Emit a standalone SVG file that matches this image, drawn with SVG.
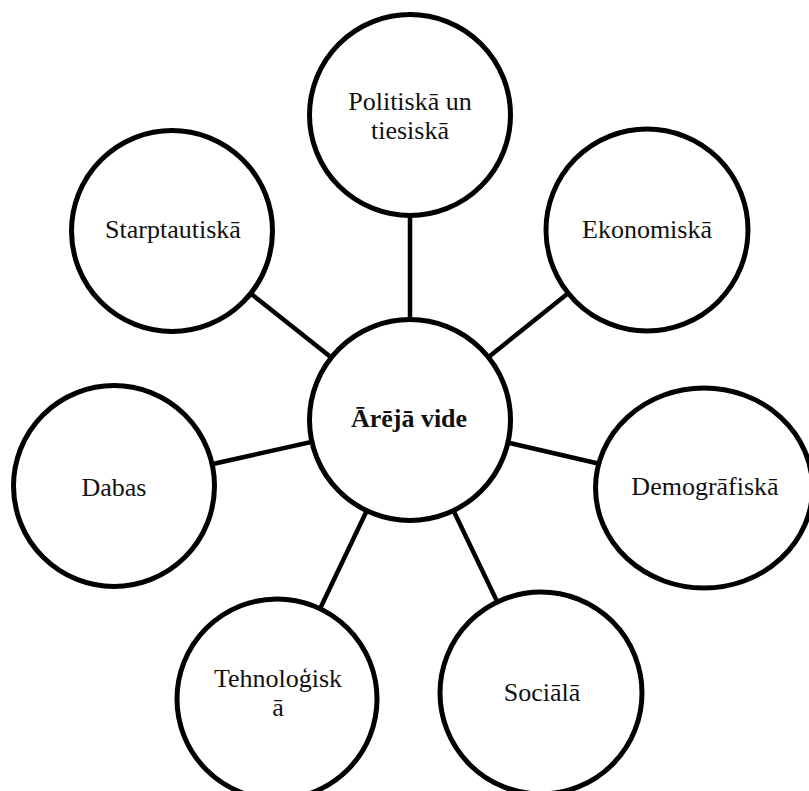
<svg xmlns="http://www.w3.org/2000/svg" width="809" height="791" viewBox="0 0 809 791">
<style>
.node{fill:#fff;stroke:#000;stroke-width:5}
.conn line{stroke:#000;stroke-width:4.5}
text{font-family:"Liberation Serif","Times New Roman",serif;font-size:26px;fill:#111;text-anchor:middle}
.b{font-weight:bold}
</style>
<rect width="809" height="791" fill="#fff"/>
<g id="connectors" class="conn">
<line x1="410" y1="420" x2="410" y2="115"/>
<line x1="410" y1="420" x2="172" y2="231"/>
<line x1="410" y1="420" x2="647" y2="230"/>
<line x1="410" y1="420" x2="114" y2="486"/>
<line x1="410" y1="420" x2="704" y2="488"/>
<line x1="410" y1="420" x2="277" y2="699"/>
<line x1="410" y1="420" x2="541" y2="693"/>
</g>
<g id="politiska">
<circle class="node" cx="410" cy="115" r="100.5"/>
<text x="410" y="110">Politiskā un</text>
<text x="410" y="139">tiesiskā</text>
</g>
<g id="starptautiska">
<circle class="node" cx="172" cy="231" r="100.5"/>
<text x="173" y="238">Starptautiskā</text>
</g>
<g id="ekonomiska">
<circle class="node" cx="647" cy="230" r="101"/>
<text x="647" y="238">Ekonomiskā</text>
</g>
<g id="dabas">
<circle class="node" cx="114" cy="486" r="100.5"/>
<text x="114" y="496">Dabas</text>
</g>
<g id="demografiska">
<ellipse class="node" cx="704" cy="488" rx="108.5" ry="100"/>
<text x="705" y="495">Demogrāfiskā</text>
</g>
<g id="tehnologiska">
<circle class="node" cx="277" cy="699" r="100"/>
<text x="278" y="687">Tehnoloģisk</text>
<text x="278" y="716">ā</text>
</g>
<g id="sociala">
<circle class="node" cx="541" cy="693" r="101"/>
<text x="542" y="701">Sociālā</text>
</g>
<g id="areja-vide">
<circle class="node" cx="410" cy="420" r="100.5"/>
<text class="b" x="409" y="427">Ārējā vide</text>
</g>
</svg>
